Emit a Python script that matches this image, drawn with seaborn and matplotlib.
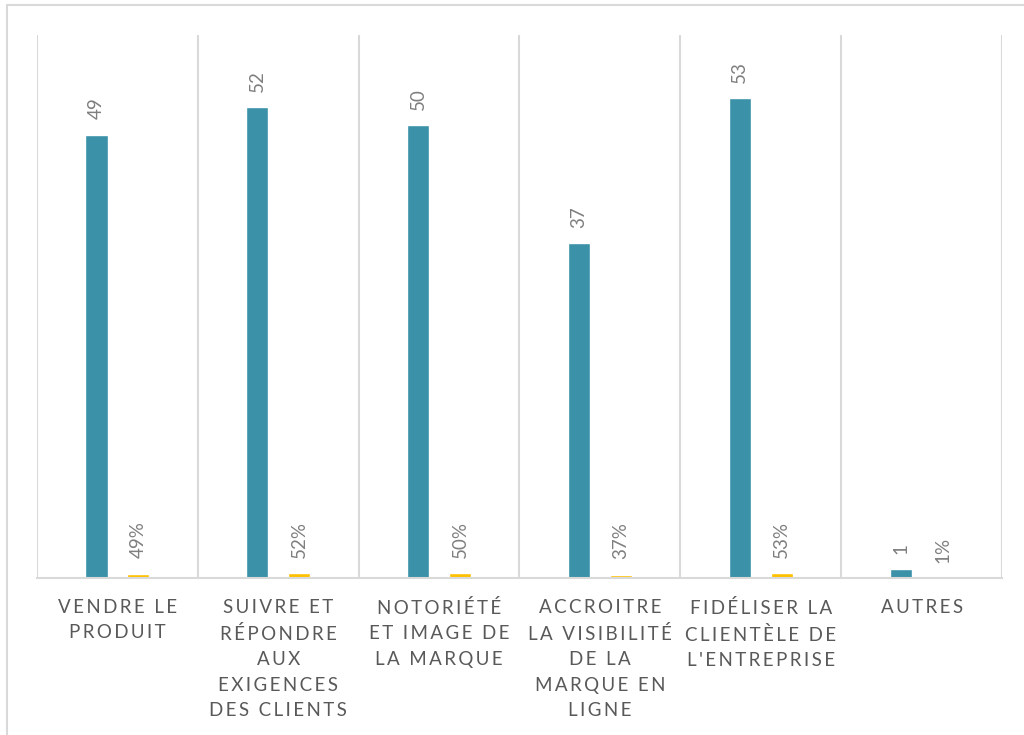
import pandas as pd
import seaborn as sns
import matplotlib.pyplot as plt
from matplotlib.patches import Rectangle

# Data
categories = ["VENDRE LE\nPRODUIT",
              "SUIVRE ET\nRÉPONDRE\nAUX\nEXIGENCES\nDES CLIENTS",
              "NOTORIÉTÉ\nET IMAGE DE\nLA MARQUE",
              "ACCROITRE\nLA VISIBILITÉ\nDE LA\nMARQUE EN\nLIGNE",
              "FIDÉLISER LA\nCLIENTÈLE DE\nL'ENTREPRISE",
              "AUTRES"]
counts = [49, 52, 50, 37, 53, 1]
percents = [0.49, 0.52, 0.50, 0.37, 0.53, 0.01]
series = ["Effectif", "Pourcentage"]

teal = "#3A91A8"
orange = "#FFC000"
grid_col = "#D9D9D9"

df = pd.DataFrame({
    "cat": list(range(len(categories))) * 2,
    "value": counts + percents,
    "serie": [series[0]] * len(counts) + [series[1]] * len(percents),
})

sns.set_style("white")
plt.rcParams['font.family'] = ['Lato', 'DejaVu Sans']

fig = plt.figure(figsize=(10.24, 7.35), dpi=100)
ax = fig.add_axes([37 / 1024, 1 - 578 / 735, (1002 - 37) / 1024, (578 - 35) / 735])

sns.barplot(data=df, x="cat", y="value", hue="serie", palette=[teal, orange],
            width=0.52, gap=0.47, saturation=1, legend=False, ax=ax)

ax.set_ylim(0, 60)
ax.set_xlim(-0.5, 5.5)
ax.set_xlabel("")
ax.set_ylabel("")
ax.set_yticks([])

# category separators
ax.set_xticks([i - 0.5 for i in range(len(categories) + 1)], minor=True)
ax.grid(True, which="minor", axis="x", color=grid_col, linewidth=1.5)
ax.grid(False, which="major")
ax.tick_params(axis="x", which="both", length=0)

def spaced(s):
    return "\n".join("\u2009".join(line) for line in s.split("\n"))

ax.set_xticks(range(len(categories)))
ax.set_xticklabels([spaced(c) for c in categories], fontsize=13.5, color="#595959",
                   linespacing=1.6)
ax.tick_params(axis="x", pad=15)

for side in ["top", "left", "right"]:
    ax.spines[side].set_visible(False)
ax.spines["bottom"].set_color(grid_col)
ax.spines["bottom"].set_linewidth(1.5)

# data labels
for cont, fmt in zip(ax.containers, ["{:.0f}", "{:.0%}"]):
    for bar in cont:
        h = bar.get_height()
        ax.annotate(fmt.format(h), (bar.get_x() + bar.get_width() / 2, h),
                    xytext=(0, 11), textcoords="offset points",
                    rotation=90, ha="center", va="bottom",
                    fontsize=13.5, color="#7F7F7F")

# chart frame
fig.patches.append(Rectangle((7 / 1024, -0.05), 1.1, 1.05 - 5.5 / 735,
                             transform=fig.transFigure, fill=False,
                             edgecolor=grid_col, linewidth=1.5))

fig.savefig("out.png", dpi=100)
